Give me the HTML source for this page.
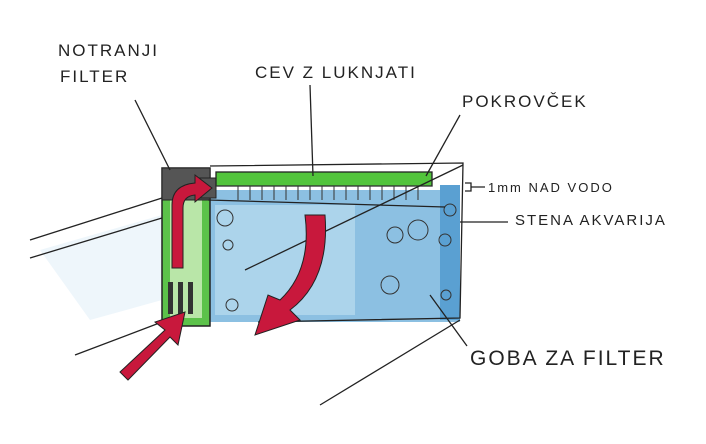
<!DOCTYPE html><html><head><style>body{margin:0;background:#fff}svg{display:block}text{font-family:"Liberation Sans",sans-serif;fill:#222;letter-spacing:2px}</style></head><body>
<svg width="706" height="444" viewBox="0 0 706 444">
<rect width="706" height="444" fill="#fff"/>
<path d="M40 250 L162 215 L162 300 L90 320 Z" fill="#eef6fb"/>
<rect x="208" y="190" width="252" height="132" fill="#8cc0e2"/>
<rect x="215" y="205" width="140" height="110" fill="#b4d8ee" opacity="0.8"/>
<rect x="440" y="185" width="20" height="135" fill="#5aa0d2"/>
<g fill="none" stroke="#333" stroke-width="1">
<circle cx="225" cy="218" r="8"/><circle cx="228" cy="245" r="5"/><circle cx="232" cy="305" r="6"/><circle cx="395" cy="235" r="8"/><circle cx="418" cy="230" r="10"/><circle cx="390" cy="285" r="9"/><circle cx="450" cy="210" r="6"/><circle cx="445" cy="240" r="6"/><circle cx="446" cy="295" r="5"/></g>
<rect x="162" y="168" width="48" height="158" fill="#5cc24a" stroke="#222" stroke-width="1.5"/>
<rect x="170" y="200" width="32" height="118" fill="#b9e6a8"/>
<rect x="162" y="168" width="48" height="32" fill="#555" stroke="#222"/>
<rect x="196" y="178" width="20" height="20" fill="#555" stroke="#222"/>
<rect x="168" y="282" width="5" height="32" fill="#333"/><rect x="178" y="282" width="5" height="32" fill="#333"/><rect x="188" y="282" width="5" height="32" fill="#333"/>
<rect x="216" y="172" width="216" height="14" fill="#52c43c" stroke="#222" stroke-width="1.3"/>
<g stroke="#333" stroke-width="1">
<line x1="216" y1="186" x2="432" y2="186"/>
<path d="M238 186v14M250 186v14M262 186v14M274 186v14M286 186v14M298 186v14M310 186v14M322 186v14M334 186v14M346 186v14M358 186v14M370 186v14M382 186v14M394 186v14M406 186v14M418 186v14"/>
</g>
<g stroke="#222" stroke-width="1.3" fill="none">
<path d="M210 166 L463 163 L460 318 L258 322"/>
<line x1="208" y1="200" x2="445" y2="207"/>
<line x1="30" y1="240" x2="162" y2="198"/>
<line x1="30" y1="258" x2="162" y2="218"/>
<line x1="75" y1="355" x2="162" y2="322"/>
<line x1="245" y1="270" x2="463" y2="165"/>
<line x1="320" y1="405" x2="460" y2="320"/>
<line x1="135" y1="100" x2="170" y2="170"/>
<line x1="310" y1="85" x2="313" y2="176"/>
<line x1="460" y1="115" x2="426" y2="176"/>
<path d="M465 183 h6 v8 h-6 M471 187 h14"/>
<line x1="460" y1="222" x2="508" y2="222"/>
<line x1="430" y1="295" x2="467" y2="346"/>
</g>
<g fill="#c8183c" stroke="#222" stroke-width="1">
<path d="M172 268 L172 205 Q172 185 195 183 L195 175 L212 188 L195 202 L195 195 Q183 196 183 208 L183 268 Z"/>
<path d="M305 215 L325 215 Q330 280 290 310 L300 320 L255 335 L268 295 L280 300 Q312 270 305 215 Z"/>
<path d="M120 372 L165 330 L155 322 L185 312 L178 345 L170 337 L128 380 Z"/>
</g>
<g font-size="17">
<text x="58" y="56">NOTRANJI</text>
<text x="60" y="82">FILTER</text>
<text x="255" y="78">CEV Z LUKNJATI</text>
<text x="462" y="107">POKROVČEK</text>
<text x="515" y="225" font-size="15">STENA AKVARIJA</text>
<text x="488" y="192" font-size="13">1mm NAD VODO</text>
<text x="470" y="365" font-size="21">GOBA ZA FILTER</text>
</g>
</svg></body></html>
